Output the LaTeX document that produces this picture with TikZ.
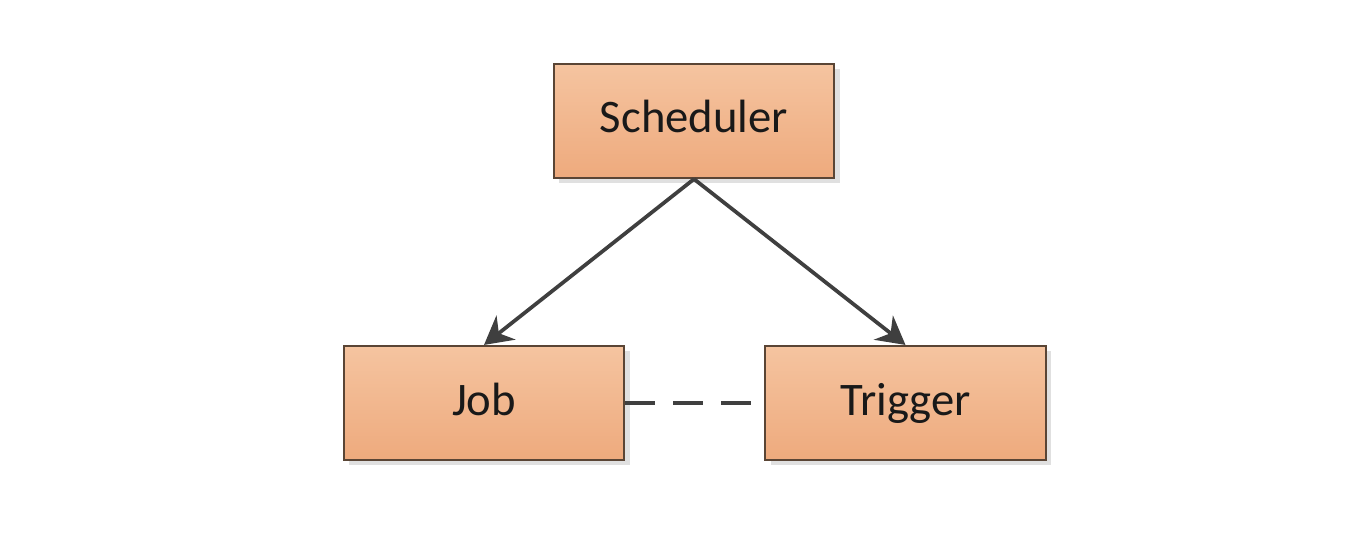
\documentclass[tikz,border=0pt]{standalone}
\usepackage{fontspec}
\setmainfont{Carlito}
\usepackage{tikz}
\usetikzlibrary{arrows.meta,shadows}

\definecolor{boxtop}{HTML}{F5C4A0}
\definecolor{boxbottom}{HTML}{EEAA7D}
\definecolor{boxline}{HTML}{5A4535}
\definecolor{linkgray}{HTML}{3F3F3F}

\begin{document}
\begin{tikzpicture}[x=0.75pt,y=-0.75pt,
    every node/.style = {shape=rectangle, draw=boxline, line width=1.6pt,
                         top color=boxtop, bottom color=boxbottom,
                         minimum width=210.5pt, minimum height=85.5pt,
                         text height=25pt, text depth=7pt,
                         text=black!90, font=\fontsize{35}{40}\selectfont,
                         drop shadow={shadow xshift=4pt, shadow yshift=-4pt,
                                      fill=black!12, opacity=1}},
    link/.style = {draw=linkgray, line width=2.8pt,
                   -{Stealth[length=21pt,width=23pt]}},
    assoc/.style = {draw=linkgray, line width=2.8pt,
                    dash pattern=on 22.5pt off 13.5pt}
  ]
  \useasboundingbox (0,0) rectangle (1360,538);

  \node (sched) at (694,121) {Scheduler};
  \node (job) at (484,403) {Job};
  \node (trig) at (905.5,403) {Trigger};

  \draw[link] (sched.south) -- (job.north);
  \draw[link] (sched.south) -- (trig.north);
  \draw[assoc] (job.east) -- (trig.west);
\end{tikzpicture}
\end{document}
